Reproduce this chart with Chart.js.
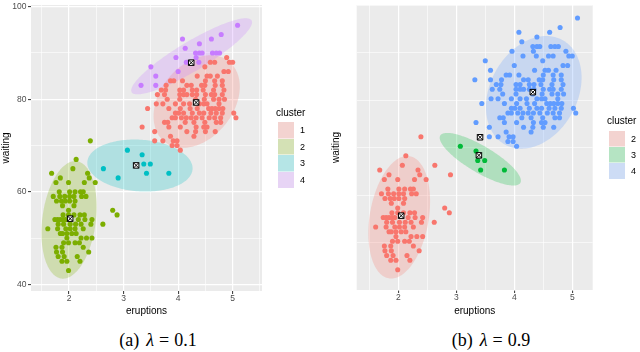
<!DOCTYPE html>
<html><head><meta charset="utf-8">
<script src="https://cdn.jsdelivr.net/npm/chart.js@4.4.0/dist/chart.umd.min.js"></script>
<style>
html,body{margin:0;padding:0;background:#fff;width:640px;height:352px;overflow:hidden;font-family:"Liberation Sans",Arial,sans-serif;}
canvas{position:absolute;top:0;}
.lt{position:absolute;font-size:10px;color:#000;line-height:12px;white-space:nowrap;}
.key{position:absolute;width:16px;background:#F2F2F2;box-shadow:0 0 0 0.5px #fff;}
.key div{width:100%;height:100%;}
.kl{position:absolute;font-size:9px;color:#000;line-height:10px;}
.cap{position:absolute;top:329px;font-family:"Liberation Serif","DejaVu Serif",serif;font-size:18px;line-height:22px;white-space:nowrap;color:#000;transform:translateX(-50%);}
.cap i{font-style:italic;margin-left:7px;}
.cap .eq{margin:0 5px;}
</style>
</head><body>
<canvas id="ca" width="320" height="322" style="left:0"></canvas>
<canvas id="cb" width="320" height="322" style="left:320px"></canvas>
<div id="legA"></div><div id="legB"></div>
<div class="cap" style="left:158px">(a)<i>λ</i><span class="eq">=</span>0.1</div>
<div class="cap" style="left:491px">(b)<i>λ</i><span class="eq">=</span>0.9</div>
<script>
// ---- data (eruptions, waiting) ----
// points that form cluster 1 in (a) / cluster 4 in (b)
const ptsUpperRed = [
[4.89,89],[4.59,88],[4.67,88],[4.94,88],[5.00,88],[4.49,87],[4.84,86],[4.92,86],
[4.35,85],[4.53,85],[4.59,85],[4.72,85],
[3.86,84],[3.92,84],[4.08,84],[4.50,84],[4.67,84],[4.81,84],
[3.78,83],[4.16,83],[4.24,83],[4.43,83],[4.49,83],[4.68,83],[4.81,83],
[3.69,82],[3.77,82],[4.03,82],[4.10,82],[4.26,82],[4.34,82],[4.46,82],[4.65,82],[4.84,82],
[3.62,81],[3.75,81],[4.03,81],[4.10,81],[4.16,81],[4.26,81],[4.34,81],[4.50,81],[4.61,81],[4.67,81],[4.81,81],
[3.80,80],[4.03,80],[4.32,80],[4.48,80],[4.65,80],[4.75,80],[4.85,80],
[3.60,79],[3.72,79],[3.95,79],[4.10,79],[4.21,79],[4.39,79],[4.47,79],[4.53,79],[4.75,79],
[3.44,78],[3.83,78],[4.04,78],[4.22,78],[4.35,78],[4.56,78],[4.62,78],[4.68,78],[4.75,78],[4.82,78],
[3.95,77],[4.01,77],[4.10,77],[4.26,77],[4.39,77],[4.47,77],[4.60,77],[4.70,77],[4.81,77],[5.02,77],
[3.89,76],[3.95,76],[4.06,76],[4.15,76],[4.24,76],[4.33,76],[4.44,76],[4.57,76],[4.67,76],[4.78,76],[5.06,76],
[3.75,75],[3.81,75],[4.13,75],[4.29,75],[4.49,75],[4.70,75],[4.78,75],
[3.34,74],[3.83,74],[4.04,74],[4.33,74],[4.47,74],[4.53,74],
[3.57,73],[4.16,73],[4.32,73],[4.50,73],[4.68,73],
[3.86,72],[4.29,72],
[3.57,71],[3.72,71],[3.91,71],[3.98,71],
[3.89,70],[3.98,70],[4.04,69]
];
// points that form cluster 4 in (a) / cluster 4 in (b)
const ptsUpperPurple = [
[5.09,96],[4.79,94],[4.61,93],[4.08,93],[4.39,92],[4.13,91],
[4.63,90],[4.70,90],[4.76,90],[4.32,90],[4.39,90],[4.44,90],
[3.96,89],[4.33,89],[4.15,88],[4.38,88],[3.50,87],[4.00,86],[3.59,85],[3.32,83],[3.59,83]
];
// points that form cluster 2 in (a) / cluster 2 in (b)
const ptsLower = [
[2.39,71],[2.13,67],[2.07,65],[1.68,64],[2.34,64],[1.84,63],[2.37,63],
[1.76,62],[1.99,62],[2.28,62],[2.48,62],
[1.82,60],[2.01,60],[2.11,60],[2.21,60],[2.26,60],
[1.71,59],[1.83,59],[1.92,59],[2.01,59],[2.09,59],[2.23,59],[2.31,59],
[1.77,58],[1.86,58],[1.93,58],[2.01,58],[2.11,58],
[1.88,57],[2.09,57],[1.99,56],[2.80,56],
[1.89,55],[1.99,55],[2.09,55],[2.20,55],[2.28,55],[2.88,55],
[1.74,54],[1.79,54],[1.84,54],[1.89,54],[1.94,54],[2.17,54],[2.29,54],[2.42,54],
[1.80,53],[1.90,53],[2.02,53],[2.12,53],[2.22,53],[2.40,53],[2.62,53],
[1.61,52],[1.79,52],[1.94,52],[2.02,52],[2.11,52],[2.26,52],
[1.84,51],[1.88,51],[1.96,51],[2.05,51],[2.13,51],
[1.96,50],[2.22,50],[2.32,50],[2.42,50],
[1.90,49],[1.99,49],[2.11,49],[2.19,49],
[1.76,48],[1.87,48],[2.26,48],
[1.77,47],[1.88,47],[2.36,47],
[1.80,46],[1.91,46],[2.15,46],
[1.87,45],[1.96,45],[2.20,45],
[1.99,43]
];
// points in cluster 3 in (a) that fall in cluster 2 in (b)
const ptsMidLeft = [[2.63,65],[2.90,63]];
// points in cluster 3 in (a) and cluster 3 in (b)
const ptsMid = [[3.07,69],[3.34,68],[3.37,66],[3.49,66],[3.42,64],[3.83,64]];

const clusterLabelsA = ['1','2','3','4'];
const clusterLabelsB = ['2','3','4'];
const coloursA = ['#F8766D','#7CAE00','#00BFC4','#C77CFF'];
const coloursB = ['#F8766D','#00BA38','#619CFF'];

// cluster centres (eruptions, waiting)
const centroidsA = [[4.33,79.3],[2.02,54.2],[3.23,65.7],[4.24,87.9]];
const centroidsB = [[2.05,54.4],[3.39,67.1],[4.32,80.4],[3.41,70.9]];

// ellipse statistics per cluster: centre, spread in x, spread in y, correlation
const ellCxA = [4.34, 2.00, 3.30, 4.248];
const ellCyA = [79.5, 53.93, 65.67, 89.27];
const ellSxA = [0.79, 0.506, 0.965, 1.108];
const ellSyA = [10.0, 12.7, 5.62, 8.22];
const ellRA  = [0.32, 0.22, -0.107, 0.895];
const ellCxB = [2.016, 3.414, 4.336];
const ellCyB = [54.06, 66.28, 80.36];
const ellSxB = [0.532, 0.70, 0.824];
const ellSyB = [12.9, 5.54, 11.86];
const ellRB  = [0.26, -0.815, 0.26];

const xTicks = [2,3,4,5];
const yTicksA = [40,60,80,100];
const yTicksB = [40,60,80];

// ---- drawing ----
Chart.defaults.font.family = '"Liberation Sans", Arial, sans-serif';
const near = (v, list) => list.some(t => Math.abs(t - v) < 1e-6);
function rgba(hex, a){const n=parseInt(hex.slice(1),16);return `rgba(${n>>16},${(n>>8)&255},${n&255},${a})`;}

function makePanel(id, p){
  const bgPlugin = {id:'bg', beforeDraw(chart){const {ctx, chartArea:a}=chart; ctx.save(); ctx.fillStyle='#EBEBEB'; ctx.fillRect(a.left,a.top,a.width,a.height); ctx.restore();}};
  const ellPlugin = {id:'ell', beforeDatasetsDraw(chart){
    const {ctx, chartArea:a, scales:{x, y}} = chart;
    ctx.save(); ctx.beginPath(); ctx.rect(a.left,a.top,a.width,a.height); ctx.clip();
    p.ell.cx.forEach((cx,i)=>{
      const cy=p.ell.cy[i], sx=p.ell.sx[i], sy=p.ell.sy[i], r=p.ell.r[i], q=Math.sqrt(1-r*r);
      ctx.beginPath();
      for(let k=0;k<=180;k++){
        const t=k/180*2*Math.PI;
        const px=x.getPixelForValue(cx+sx*Math.cos(t));
        const py=y.getPixelForValue(cy+sy*(r*Math.cos(t)+q*Math.sin(t)));
        if(k===0) ctx.moveTo(px,py); else ctx.lineTo(px,py);
      }
      ctx.closePath(); ctx.fillStyle=rgba(p.colours[i],0.25); ctx.fill();
    });
    ctx.restore();
  }};
  const cdata = p.centroids.map(c=>({x:c[0],y:c[1]}));
  const datasets = [
    {data:cdata, pointStyle:'crossRot', pointRadius:3.9, borderColor:'#000', backgroundColor:'#000', pointBorderWidth:1, order:0},
    {data:cdata, pointStyle:'rect', pointRadius:3.9, borderColor:'#000', backgroundColor:'#fff', pointBorderWidth:1, order:1}
  ];
  p.clusters.forEach((pts,i)=>datasets.push({data:pts.map(q=>({x:q[0],y:q[1]})), pointRadius:2.55, pointBorderWidth:0, backgroundColor:p.colours[i], borderColor:p.colours[i], order:2+i}));
  new Chart(document.getElementById(id), {
    type:'scatter', data:{datasets},
    options:{
      responsive:false, animation:false, events:[],
      layout:{padding:{top:p.padTop, right:p.padRight, left:0, bottom:0}},
      plugins:{legend:{display:false}, tooltip:{enabled:false}},
      scales:{
        x:{type:'linear', position:'bottom', min:p.xr[0], max:p.xr[1],
          ticks:{stepSize:0.5, autoSkip:false, includeBounds:false, maxRotation:0, padding:0, color:'#4D4D4D', font:{size:8.5}, callback:v=>near(v,xTicks)?String(v):''},
          grid:{color:'#FFFFFF', lineWidth:c=>near(c.tick.value,xTicks)?1.2:0.6, tickLength:3, tickWidth:1, tickColor:c=>near(c.tick.value,xTicks)?'#333333':'rgba(0,0,0,0)'},
          border:{display:false},
          title:{display:true, text:'eruptions', color:'#000', font:{size:10}, padding:{top:0,bottom:p.xTitlePad}},
          afterFit:s=>{s.height=p.xAxisH; s.paddingLeft=0; s.paddingRight=0;}
        },
        y:{type:'linear', min:p.yr[0], max:p.yr[1],
          ticks:{stepSize:10, autoSkip:false, includeBounds:false, padding:1.5, color:'#4D4D4D', font:{size:8.5}, callback:v=>near(v,p.yTicks)?String(v):''},
          grid:{color:'#FFFFFF', lineWidth:c=>near(c.tick.value,p.yTicks)?1.2:0.6, tickLength:3, tickWidth:1, tickColor:c=>near(c.tick.value,p.yTicks)?'#333333':'rgba(0,0,0,0)'},
          border:{display:false},
          title:{display:true, text:'waiting', color:'#000', font:{size:10}, padding:{top:p.yTitlePad,bottom:0}},
          afterFit:s=>{s.width=p.yAxisW; s.paddingTop=0; s.paddingBottom=0;}
        }
      }
    },
    plugins:[bgPlugin, ellPlugin]
  });
}

makePanel('ca', {
  clusters:[ptsUpperRed, ptsLower, ptsMidLeft.concat(ptsMid), ptsUpperPurple],
  colours:coloursA, centroids:centroidsA,
  ell:{cx:ellCxA, cy:ellCyA, sx:ellSxA, sy:ellSyA, r:ellRA},
  xr:[1.302,5.538], yr:[38.56,100.36], yTicks:yTicksA,
  padTop:3, padRight:58, yAxisW:31, xAxisH:31, xTitlePad:4.5, yTitlePad:0
});
makePanel('cb', {
  clusters:[ptsLower.concat(ptsMidLeft), ptsMid, ptsUpperRed.concat(ptsUpperPurple)],
  colours:coloursB, centroids:centroidsB,
  ell:{cx:ellCxB, cy:ellCyB, sx:ellSxB, sy:ellSyB, r:ellRB},
  xr:[1.283,5.352], yr:[38.75,98.75], yTicks:yTicksB,
  padTop:3, padRight:47.3, yAxisW:36.7, xAxisH:32, xTitlePad:4.5, yTitlePad:10
});

function legend(el, left, titleTop, keyTop, keyH, labels, colours){
  let h = `<div class="lt" style="left:${left-2}px;top:${titleTop}px">cluster</div>`;
  labels.forEach((lab,i)=>{
    const t = keyTop + i*keyH;
    h += `<div class="key" style="left:${left}px;top:${t}px;height:${keyH}px"><div style="background:${rgba(colours[i],0.25)}"></div></div>`;
    h += `<div class="kl" style="left:${left+22}px;top:${t+keyH/2-5}px">${lab}</div>`;
  });
  document.getElementById(el).innerHTML = h;
}
legend('legA', 278, 107, 122, 16.5, clusterLabelsA, coloursA);
legend('legB', 609, 114.5, 131, 16, clusterLabelsB, coloursB);
</script>
</body></html>
